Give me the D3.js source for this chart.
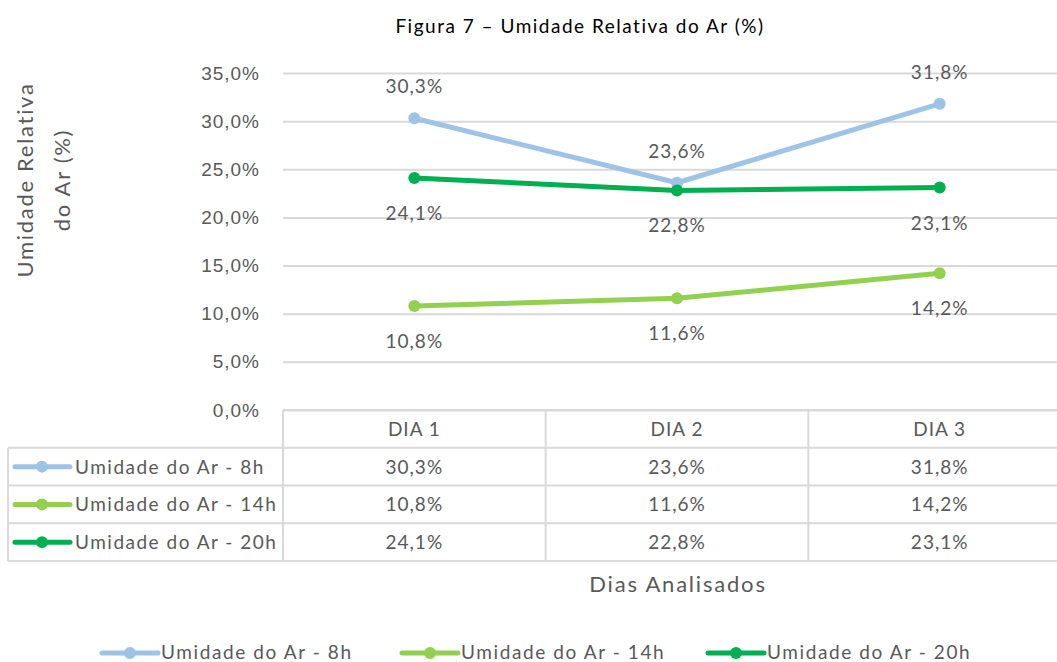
<!DOCTYPE html>
<html>
<head>
<meta charset="utf-8">
<script src="https://cdn.jsdelivr.net/npm/d3@7"></script>
<style>
  body { margin: 0; background: #fff; }
  svg { display: block; font-family: Lato, 'Open Sans', sans-serif; }
  .txt { fill: #595959; font-size: 19px; letter-spacing: 1px; }
  .name { letter-spacing: 1.5px; }
</style>
</head>
<body>
<div id="chart"></div>
<script>
const categories = ['DIA 1', 'DIA 2', 'DIA 3'];
const seriesNames = ['Umidade do Ar - 8h', 'Umidade do Ar - 14h', 'Umidade do Ar - 20h'];
const values8h = [0.303, 0.236, 0.318];
const values14h = [0.108, 0.116, 0.142];
const values20h = [0.241, 0.228, 0.231];
const yTicks = [0, 0.05, 0.10, 0.15, 0.20, 0.25, 0.30, 0.35];

const colors = ['#9DC3E6', '#92D050', '#00B050'];
const series = [
  { name: seriesNames[0], values: values8h, color: colors[0], labelPos: 'above' },
  { name: seriesNames[1], values: values14h, color: colors[1], labelPos: 'below' },
  { name: seriesNames[2], values: values20h, color: colors[2], labelPos: 'below' }
];

const W = 1057, H = 662;
const fmt = v => d3.format('.1f')(v * 100).replace('.', ',') + '%';

const svg = d3.select('#chart').append('svg')
  .attr('width', W).attr('height', H);

const x = d3.scaleBand().domain(categories).range([283, 1071]).padding(0);
const y = d3.scaleLinear().domain([0, 0.35]).range([410, 73]);
const rows = d3.scaleBand().domain(['head'].concat(seriesNames)).range([410, 561]);

// title
svg.append('text').attr('class', 'txt')
  .attr('x', 580).attr('y', 33)
  .attr('text-anchor', 'middle')
  .style('fill', '#000').style('letter-spacing', '1.5px')
  .text('Figura 7 – Umidade Relativa do Ar (%)');

// y axis title
const yt = svg.append('text').attr('class', 'txt')
  .attr('transform', 'translate(0,180) rotate(-90)')
  .attr('text-anchor', 'middle').style('font-size', '22px').style('letter-spacing', '1.7px');
yt.append('tspan').attr('x', 0).attr('y', 33).text('Umidade Relativa');
yt.append('tspan').attr('x', 0).attr('y', 70).text('do Ar (%)');

// gridlines + y labels
svg.append('g')
  .attr('transform', 'translate(283,0)')
  .call(d3.axisLeft(y).tickValues(yTicks).tickSize(-(1071 - 283)).tickPadding(24).tickFormat(fmt))
  .call(g => g.select('.domain').remove())
  .call(g => g.selectAll('line').attr('stroke', '#d9d9d9').attr('stroke-width', 2))
  .call(g => g.selectAll('text').attr('class', 'txt').attr('font-family', null).attr('font-size', null).attr('fill', null).attr('dx', 1));

// table grid
const tg = svg.append('g').attr('stroke', '#d9d9d9').attr('stroke-width', 2);
tg.append('line').attr('x1', 283).attr('x2', 1071).attr('y1', rows('head')).attr('y2', rows('head'));
seriesNames.forEach(n => {
  tg.append('line').attr('x1', 8).attr('x2', 1071).attr('y1', rows(n)).attr('y2', rows(n));
});
tg.append('line').attr('x1', 8).attr('x2', 1071)
  .attr('y1', rows.range()[1]).attr('y2', rows.range()[1]);
categories.forEach(c => {
  tg.append('line').attr('x1', x(c)).attr('x2', x(c)).attr('y1', rows('head')).attr('y2', rows.range()[1]);
});
tg.append('line').attr('x1', 8).attr('x2', 8).attr('y1', rows(seriesNames[0])).attr('y2', rows.range()[1]);

// header texts
svg.append('g').selectAll('text').data(categories).join('text')
  .attr('class', 'txt')
  .attr('x', d => x(d) + x.bandwidth() / 2)
  .attr('y', rows('head') + rows.bandwidth() / 2 + 7)
  .attr('text-anchor', 'middle')
  .text(d => d);

// table rows
series.forEach(s => {
  const ry = rows(s.name) + rows.bandwidth() / 2;
  const g = svg.append('g');
  g.append('line').attr('x1', 15).attr('x2', 70).attr('y1', ry).attr('y2', ry)
    .attr('stroke', s.color).attr('stroke-width', 5).attr('stroke-linecap', 'round');
  g.append('circle').attr('cx', 42).attr('cy', ry).attr('r', 6).attr('fill', s.color);
  g.append('text').attr('class', 'txt name').attr('x', 75).attr('y', ry + 7).text(s.name);
  g.selectAll('.val').data(s.values).join('text')
    .attr('class', 'txt val')
    .attr('x', (d, i) => x(categories[i]) + x.bandwidth() / 2)
    .attr('y', ry + 7)
    .attr('text-anchor', 'middle')
    .text(fmt);
});

// lines, markers, labels
const cx = c => x(c) + x.bandwidth() / 2;
const line = d3.line().x((d, i) => cx(categories[i])).y(d => y(d));
series.forEach(s => {
  svg.append('path').datum(s.values)
    .attr('d', line).attr('fill', 'none')
    .attr('stroke', s.color).attr('stroke-width', 5).attr('stroke-linejoin', 'round');
  svg.append('g').selectAll('circle').data(s.values).join('circle')
    .attr('cx', (d, i) => cx(categories[i])).attr('cy', d => y(d))
    .attr('r', 6).attr('fill', s.color);
  svg.append('g').selectAll('text').data(s.values).join('text')
    .attr('class', 'txt')
    .attr('x', (d, i) => cx(categories[i]))
    .attr('y', d => s.labelPos === 'above' ? y(d) - 25 : y(d) + 42)
    .attr('text-anchor', 'middle')
    .text(fmt);
});

// x axis title
svg.append('text').attr('class', 'txt')
  .attr('x', 678).attr('y', 592).attr('text-anchor', 'middle')
  .style('font-size', '22px').style('letter-spacing', '1.8px')
  .text('Dias Analisados');

// legend
const legendX = [102, 402, 708];
series.forEach((s, i) => {
  const g = svg.append('g').attr('transform', `translate(${legendX[i]},653)`);
  g.append('line').attr('x1', 0).attr('x2', 56).attr('y1', 0).attr('y2', 0)
    .attr('stroke', s.color).attr('stroke-width', 5).attr('stroke-linecap', 'round');
  g.append('circle').attr('cx', 28).attr('cy', 0).attr('r', 6).attr('fill', s.color);
  g.append('text').attr('class', 'txt').attr('x', 59).attr('y', 6)
    .style('letter-spacing', '1.6px').text(s.name);
});
</script>
</body>
</html>
